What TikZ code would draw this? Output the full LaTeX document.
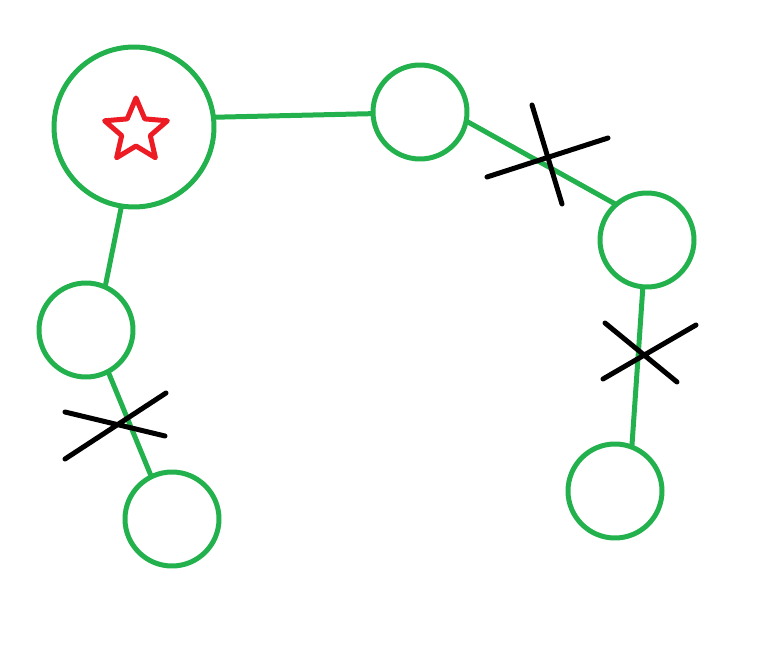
\documentclass[tikz,border=0pt]{standalone}
\definecolor{pgreen}{HTML}{22B14C}
\definecolor{pred}{HTML}{ED1C24}
\begin{document}
\begin{tikzpicture}[x=0.02cm,y=-0.02cm,
  vbig/.style={circle,draw=pgreen,line width=0.1cm,minimum size=3.2cm,inner sep=0,outer sep=0},
  vsmall/.style={circle,draw=pgreen,line width=0.1cm,minimum size=1.88cm,inner sep=0,outer sep=0},
  edge/.style={draw=pgreen,line width=0.1cm},
  cut/.style={draw=black,line width=0.1cm,line cap=round}]
\useasboundingbox (0,0) rectangle (781,662);
\node[vbig] (A) at (134,127) {};
\node[vsmall] (B) at (420,112) {};
\node[vsmall] (C) at (647,240) {};
\node[vsmall] (D) at (86,330) {};
\node[vsmall] (E) at (172,519) {};
\node[vsmall] (F) at (615,491) {};
\path[edge] (A.7) -- (B.182);
\path[edge] (B.-11) -- (C.131);
\path[edge] (A.-99) -- (D.66);
\path[edge] (D.-62) -- (E.116);
\path[edge] (C.-95) -- (F.69);
\coordinate (c1a) at (487,177); \coordinate (c1b) at (608,138);
\coordinate (c1c) at (532,105); \coordinate (c1d) at (562,204);
\path[cut] (c1a) -- (c1b) (c1c) -- (c1d);
\coordinate (c2a) at (65,459); \coordinate (c2b) at (166,393);
\coordinate (c2c) at (65,412); \coordinate (c2d) at (165,436);
\path[cut] (c2a) -- (c2b) (c2c) -- (c2d);
\coordinate (c3a) at (603,379); \coordinate (c3b) at (696,325);
\coordinate (c3c) at (605,323); \coordinate (c3d) at (677,382);
\path[cut] (c3a) -- (c3b) (c3c) -- (c3d);
\draw[pred,line width=0.1cm,line join=round]
  (136,98) -- (144.8,118.9) -- (167.4,120.8) -- (150.3,135.6) -- (155.4,157.7)
  -- (136,146) -- (116.6,157.7) -- (121.7,135.6) -- (104.6,120.8) -- (127.2,118.9) -- cycle;
\end{tikzpicture}
\end{document}
